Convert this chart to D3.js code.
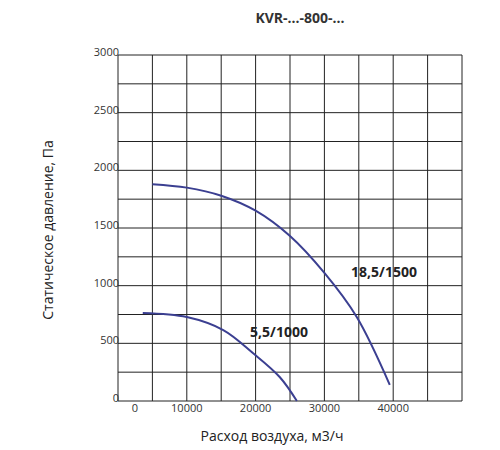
<!DOCTYPE html>
<html><head><meta charset="utf-8">
<script src="https://cdn.jsdelivr.net/npm/d3@7.9.0/dist/d3.min.js"></script>
<style>body{margin:0;background:#fff}text{font-family:"Open Sans",sans-serif}</style>
</head><body><svg id="chart" width="500" height="450"></svg>
<script>
const curveHigh = [[5000,1880],[10000,1850],[15000,1780],[20000,1650],[25000,1430],[30000,1110],[34700,728],[39500,140]];
const curveLow = [[3600,763],[10000,728],[15300,615],[19600,416],[23500,208],[26000,0]];
const xTicks = [0,10000,20000,30000,40000];
const yTicks = [0,500,1000,1500,2000,2500,3000];

const svg = d3.select('#chart');
const x = d3.scaleLinear().domain([0,50000]).range([118,462]);
const y = d3.scaleLinear().domain([0,3000]).range([401,55]);

// grid
svg.append('g').selectAll('line').data(d3.range(0,50001,5000)).join('line')
  .attr('x1',d=>x(d)).attr('x2',d=>x(d)).attr('y1',y(0)).attr('y2',y(3000))
  .attr('stroke','#222').attr('stroke-width',1);
svg.append('g').selectAll('line').data(d3.range(0,3001,250)).join('line')
  .attr('y1',d=>y(d)).attr('y2',d=>y(d)).attr('x1',x(0)).attr('x2',x(50000))
  .attr('stroke','#222').attr('stroke-width',1);

svg.append('g').selectAll('text').data(yTicks).join('text')
  .attr('x',119).attr('y',d=>y(d)+1).attr('text-anchor','end')
  .attr('font-size',11).attr('fill','#333').text(d=>d);
svg.append('g').selectAll('text').data(xTicks).join('text')
  .attr('x',d=>d===0?135:x(d)).attr('y',412).attr('text-anchor','middle')
  .attr('font-size',11).attr('fill','#333').text(d=>d);

const line = d3.line().x(d=>x(d[0])).y(d=>y(d[1])).curve(d3.curveCatmullRom);
[curveHigh,curveLow].forEach(c=>svg.append('path').attr('d',line(c))
  .attr('fill','none').attr('stroke','#3b3f91').attr('stroke-width',2));

svg.append('text').attr('x',384).attr('y',277).attr('text-anchor','middle')
  .attr('font-size',14).attr('font-weight','bold').attr('fill','#222').text('18,5/1500');
svg.append('text').attr('x',279).attr('y',337).attr('text-anchor','middle')
  .attr('font-size',14).attr('font-weight','bold').attr('fill','#222').text('5,5/1000');

svg.append('text').attr('x',300).attr('y',23).attr('text-anchor','middle')
  .attr('font-size',14).attr('font-weight','bold').attr('fill','#333').text('KVR-...-800-...');
svg.append('text').attr('x',272).attr('y',441).attr('text-anchor','middle')
  .attr('font-size',14).attr('fill','#222').text('Расход воздуха, м3/ч');
svg.append('text').attr('transform','translate(53,230) rotate(-90)').attr('text-anchor','middle')
  .attr('font-size',14).attr('fill','#222').text('Статическое давление, Па');
</script></body></html>
